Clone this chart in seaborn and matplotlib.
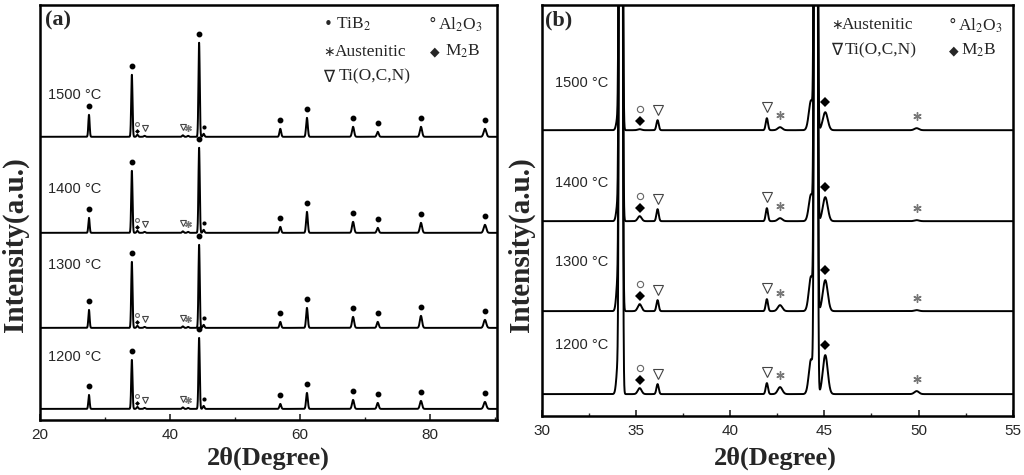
import numpy as np
import pandas as pd
import seaborn as sns
import matplotlib.pyplot as plt
from matplotlib.ticker import MultipleLocator

# temperatures, bottom trace first
temps = ['1200', '1300', '1400', '1500']

# ---- panel (a): full scan 20-90
a_tib2_pos = [27.55, 34.15, 44.5, 57.0, 61.1, 68.2, 72.0, 78.65, 88.5]
a_tib2_wid = [0.10, 0.10, 0.10, 0.13, 0.13, 0.16, 0.15, 0.17, 0.20]
a_tib2_1200 = [14, 49, 71, 5, 16, 9, 6, 8, 7]
a_tib2_1300 = [18, 66, 83, 6, 20, 11, 6, 12, 8]
a_tib2_1400 = [15, 62, 85, 6, 21, 11, 5, 10, 8]
a_tib2_1500 = [22, 62, 94, 8, 19, 10, 5, 10, 8]
a_minor_pos = [35.0, 36.1, 42.0, 42.8, 45.2]
a_minor_hgt = [2, 1, 1.5, 1, 3]
a_offset = [0, 81, 176, 272]

# ---- panel (b): zoom 30-55
b_pos = [34.05, 34.2, 35.2, 36.15, 41.95, 42.65, 44.3, 44.55, 45.05, 49.9]
b_wid = [0.08, 0.054, 0.1, 0.06, 0.06, 0.12, 0.12, 0.054, 0.13, 0.12]
b_1200 = [30, 3000, 6, 10, 11, 7, 35, 3000, 39, 3]
b_1300 = [34, 3000, 7, 11, 12, 6, 35, 3000, 31, 1]
b_1400 = [20, 3000, 5, 12, 13, 3, 27, 3000, 24, 1]
b_1500 = [14, 3000, 1, 10, 12, 3, 30, 3000, 18, 2]
b_offset = [0, 83, 173, 264]

# phase symbols: kind, 2theta, gap above the curve
a_mark_kind = ['o', 'D', 'v', 'v', '*', '.']
a_mark_pos = [35.0, 35.0, 36.1, 42.0, 42.8, 45.3]
a_mark_pad = [11, 4, 8, 8, 8, 8]
b_mark_kind = ['o', 'D', 'v', 'v', '*', 'D', '*']
b_mark_pos = [35.2, 35.2, 36.15, 41.95, 42.65, 45.05, 49.9]
b_mark_pad = [20, 8, 10, 11, 12, 10, 12]


def profile(x, pos, hgt, wid):
    y = np.zeros_like(x)
    for p, h, w in zip(pos, hgt, wid):
        y += h * np.exp(-(x - p) ** 2 / (2 * w ** 2))
    return y


sns.set_style('ticks')
plt.rcParams['font.family'] = ['Liberation Serif', 'DejaVu Serif']
plt.rcParams['mathtext.fontset'] = 'stix'

fig = plt.figure(figsize=(10.24, 4.75), dpi=100)
ax_a = fig.add_axes([0.039, 0.116, 0.446, 0.874])
ax_b = fig.add_axes([0.529, 0.124, 0.46, 0.865])

# build traces
xa = np.arange(20, 90.3, 0.01)
xb = np.arange(30, 55.01, 0.004)
a_sets = [a_tib2_1200, a_tib2_1300, a_tib2_1400, a_tib2_1500]
b_sets = [b_1200, b_1300, b_1400, b_1500]

rows_a, rows_b = [], []
for t, h, off in zip(temps, a_sets, a_offset):
    y = profile(xa, a_tib2_pos + a_minor_pos, h + a_minor_hgt, a_tib2_wid + [0.12] * len(a_minor_pos))
    rows_a.append(pd.DataFrame({'two_theta': xa, 'intensity': y + off, 'temp': t}))
for t, h, off in zip(temps, b_sets, b_offset):
    y = profile(xb, b_pos, h, b_wid)
    rows_b.append(pd.DataFrame({'two_theta': xb, 'intensity': y + off, 'temp': t}))
df_a = pd.concat(rows_a)
df_b = pd.concat(rows_b)

sns.lineplot(data=df_a, x='two_theta', y='intensity', units='temp', estimator=None,
             color='black', lw=1.4, sort=False, ax=ax_a)
sns.lineplot(data=df_b, x='two_theta', y='intensity', units='temp', estimator=None,
             color='black', lw=1.4, sort=False, ax=ax_b)

mstyle = {
    'o': dict(marker='o', ms=3.5, mfc='none', mec='#666666', mew=0.8),
    'D': dict(marker='D', ms=3.2, mfc='black', mec='black', mew=0),
    'v': dict(marker='v', ms=5, mfc='none', mec='#444444', mew=0.8),
    '*': dict(marker=(6, 2, 0), ms=6, mec='#777777', mew=1.0),
    '.': dict(marker='o', ms=3, mfc='black', mec='black', mew=0),
}

# panel (a) markers
for h, off in zip(a_sets, a_offset):
    tib2_y = np.array(h) + off + 9
    ax_a.plot(a_tib2_pos, tib2_y, 'o', color='black', ms=3.2, ls='none')
    yb = profile(np.array(a_mark_pos), a_tib2_pos + a_minor_pos, h + a_minor_hgt,
                 a_tib2_wid + [0.12] * len(a_minor_pos))
    for k, p, pad, yy in zip(a_mark_kind, a_mark_pos, a_mark_pad, yb):
        st = dict(mstyle[k])
        if k in ('o', 'v', '*'):
            st['ms'] = st['ms'] * 0.8
        if k == 'D':
            st['ms'] = 2.5
        ax_a.plot([p], [yy + off + pad], ls='none', **st)

# panel (b) markers
for h, off in zip(b_sets, b_offset):
    yb = profile(np.array(b_mark_pos), b_pos, h, b_wid)
    for k, p, pad, yy in zip(b_mark_kind, b_mark_pos, b_mark_pad, yb):
        st = dict(mstyle[k])
        if k == 'D':
            st['ms'] = 5
        if k == 'v':
            st['ms'] = 7
        if k == 'o':
            st['ms'] = 4.5
        ax_b.plot([p], [yy + off + pad], ls='none', **st)

# temperature labels
for t, off, dy in zip(temps, a_offset, [52, 63, 44, 42]):
    ax_a.text(21.2, off + dy, t + ' °C', family='Liberation Sans', fontsize=10.5, va='center')
for t, off, dy in zip(temps, b_offset, [49, 49, 38, 47]):
    ax_b.text(30.7, off + dy, t + ' °C', family='Liberation Sans', fontsize=10.5, va='center')

# axes styling
ax_a.set_xlim(20, 90.3)
ax_a.set_ylim(-11, 404)
ax_b.set_xlim(30, 55)
ax_b.set_ylim(-22, 389)
ax_a.xaxis.set_major_locator(MultipleLocator(20))
ax_a.xaxis.set_minor_locator(MultipleLocator(10))
ax_b.xaxis.set_major_locator(MultipleLocator(5))
ax_b.xaxis.set_minor_locator(MultipleLocator(2.5))
for ax in (ax_a, ax_b):
    ax.set_yticks([])
    ax.set_xlabel('')
    ax.set_ylabel('')
    ax.tick_params(axis='x', which='major', direction='in', length=4, width=1.2, labelsize=11, pad=6)
    ax.tick_params(axis='x', which='minor', direction='in', length=2.5, width=1)
    for lab in ax.get_xticklabels():
        lab.set_family('Liberation Sans')
    for sp in ax.spines.values():
        sp.set_visible(True)
        sp.set_linewidth(1.8)
        sp.set_color('black')


# phase legends: symbol and name drawn separately
def legend_entry(ax, x_sym, x_txt, y, sym, name, sym_size=11):
    ax.text(x_sym, y, sym, family='DejaVu Sans', fontsize=sym_size, va='center', transform=ax.transAxes)
    ax.text(x_txt, y, name, fontsize=12.5, va='center', transform=ax.transAxes)


legend_entry(ax_a, 0.622, 0.648, 0.952, '•', 'TiB$_2$')
legend_entry(ax_a, 0.850, 0.872, 0.952, '°', 'Al$_2$O$_3$')
legend_entry(ax_a, 0.620, 0.646, 0.887, '∗', 'Austenitic', sym_size=10)
legend_entry(ax_a, 0.855, 0.886, 0.887, '◆', 'M$_2$B', sym_size=9)
legend_entry(ax_a, 0.620, 0.654, 0.827, '∇', 'Ti(O,C,N)', sym_size=12)
legend_entry(ax_b, 0.614, 0.638, 0.951, '∗', 'Austenitic', sym_size=10)
legend_entry(ax_b, 0.864, 0.883, 0.951, '°', 'Al$_2$O$_3$')
legend_entry(ax_b, 0.614, 0.644, 0.890, '∇', 'Ti(O,C,N)', sym_size=12)
legend_entry(ax_b, 0.864, 0.890, 0.890, '◆', 'M$_2$B', sym_size=9)

ax_a.text(0.011, 0.962, '(a)', fontsize=16, fontweight='bold', va='center', transform=ax_a.transAxes)
ax_b.text(0.008, 0.962, '(b)', fontsize=16, fontweight='bold', va='center', transform=ax_b.transAxes)

# axis titles
fig.text(0.015, 0.484, 'Intensity(a.u.)', rotation=90, fontsize=21, fontweight='bold', ha='center', va='center')
fig.text(0.509, 0.484, 'Intensity(a.u.)', rotation=90, fontsize=21, fontweight='bold', ha='center', va='center')
fig.text(0.262, 0.036, '2θ(Degree)', fontsize=19, fontweight='bold', ha='center', va='center')
fig.text(0.757, 0.036, '2θ(Degree)', fontsize=19, fontweight='bold', ha='center', va='center')

fig.savefig('out.png', dpi=100)
